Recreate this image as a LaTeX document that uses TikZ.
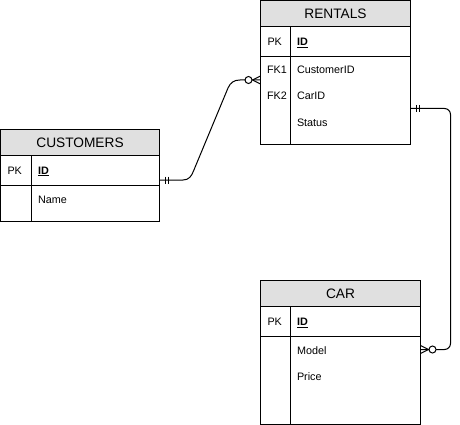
\documentclass[tikz,border=0pt]{standalone}
\usepackage{fontspec}
\setmainfont{Liberation Sans}
\usetikzlibrary{calc}
\definecolor{hdrgray}{HTML}{E0E0E0}
\begin{document}
\begin{tikzpicture}[x=1pt,y=-1pt,line width=1pt,
  tbl/.style={draw,rectangle,inner sep=0pt,outer sep=0pt,anchor=north west,fill=white},
  hdr/.style={draw,rectangle,inner sep=0pt,outer sep=0pt,anchor=north west,fill=hdrgray,minimum height=26pt,font=\fontsize{13.7}{16}\selectfont},
  key/.style={anchor=base west,inner sep=0pt,font=\fontsize{10.8}{13}\selectfont},
  fld/.style={anchor=base west,inner sep=0pt,font=\fontsize{10.8}{13}\selectfont},
  conn/.style={draw,line width=1pt},
  ertick/.style={line width=1pt},
  ring/.style={draw,fill=white,line width=1pt}
]
\useasboundingbox (0,0) rectangle (460,425);

% CUSTOMERS
\node[tbl,minimum width=159pt,minimum height=92pt] (cust) at (0.5,129.5) {};
\node[hdr,minimum width=159pt] (custH) at (cust.north west) {CUSTOMERS};
\draw (0.5,185.5) -- (159.5,185.5);
\draw (31.5,155.5) -- (31.5,221.5);
\node[key] (custPK) at (7,174) {PK};
\node[fld] (custID) at (37.5,174) {\textbf{\underline{ID}}};
\node[fld] (custName) at (37.5,203) {Name};

% RENTALS
\node[tbl,minimum width=150pt,minimum height=144pt] (rentals) at (260.5,0.5) {};
\node[hdr,minimum width=150pt] (rentalsH) at (rentals.north west) {RENTALS};
\draw (260.5,56.5) -- (410.5,56.5);
\draw (290.5,26.5) -- (290.5,144.5);
\node[key] (rPK) at (267,45.5) {PK};
\node[fld] (rID) at (296.5,45.5) {\textbf{\underline{ID}}};
\node[key] (rFK1) at (266.5,74) {FK1};
\node[fld] (rCust) at (296.5,74) {CustomerID};
\node[key] (rFK2) at (266.5,100) {FK2};
\node[fld] (rCar) at (296.5,100) {CarID};
\node[fld] (rStatus) at (296.5,126) {Status};

% CAR
\node[tbl,minimum width=160pt,minimum height=144pt] (car) at (260.5,280.5) {};
\node[hdr,minimum width=160pt] (carH) at (car.north west) {CAR};
\draw (260.5,336.5) -- (420.5,336.5);
\draw (290.5,306.5) -- (290.5,424.5);
\node[key] (cPK) at (267,325.5) {PK};
\node[fld] (cID) at (296.5,325.5) {\textbf{\underline{ID}}};
\node[fld] (cModel) at (296.5,354) {Model};
\node[fld] (cPrice) at (296.5,380) {Price};

% connector CUSTOMERS -> RENTALS
\draw[conn] ($(cust.north east)+(0,50.5)$) -- (183,180)
  .. controls (189,180) and (191.5,176) .. (193.5,171) -- (228,88)
  .. controls (230.5,82.5) and (234,80) .. (240,80)
  -- ($(rentals.north west)+(0,79.5)$);
\draw[ertick] (165,176.5) -- (165,183.5) (168,176.5) -- (168,183.5);
\draw[ertick] (252.5,80) -- (260.5,76) (252.5,80) -- (260.5,84);
\draw[ring] (248.5,80) circle[radius=3.5pt];

% connector RENTALS -> CAR
\draw[conn,rounded corners=6pt] ($(rentals.north east)+(0,108)$) -- (450.5,108.5)
  -- (450.5,349.5) -- ($(car.north east)+(0,69)$);
\draw[ertick] (416,105) -- (416,112) (419,105) -- (419,112);
\draw[ertick] (428.5,349.5) -- (420.5,345.5) (428.5,349.5) -- (420.5,353.5);
\draw[ring] (432.5,349.5) circle[radius=3.5pt];
\end{tikzpicture}
\end{document}
